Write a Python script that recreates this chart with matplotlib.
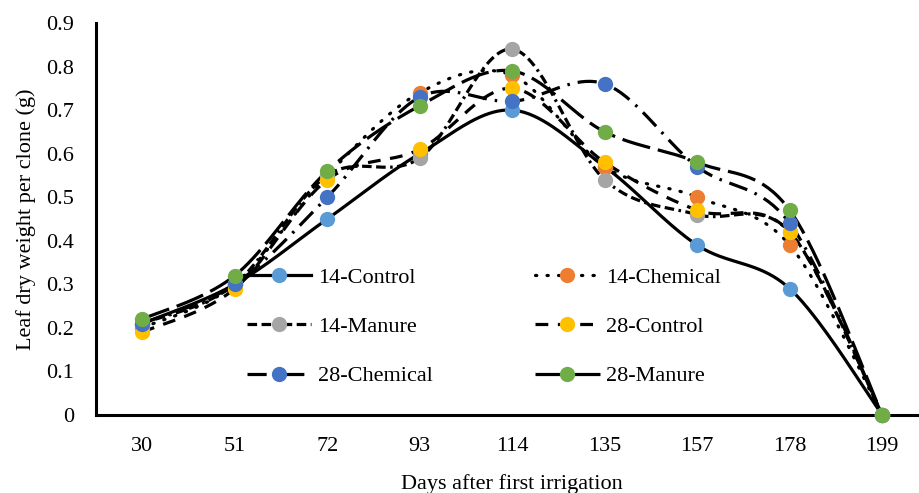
import matplotlib
matplotlib.use("Agg")
import matplotlib.pyplot as plt
import numpy as np
from matplotlib.lines import Line2D

days = ["30", "51", "72", "93", "114", "135", "157", "178", "199"]
control_14 = [0.21, 0.30, 0.45, 0.60, 0.70, 0.57, 0.39, 0.29, 0.0]
chemical_14 = [0.20, 0.30, 0.55, 0.74, 0.78, 0.57, 0.50, 0.39, 0.0]
manure_14 = [0.21, 0.30, 0.55, 0.59, 0.84, 0.54, 0.46, 0.42, 0.0]
control_28 = [0.19, 0.29, 0.54, 0.61, 0.75, 0.58, 0.47, 0.42, 0.0]
chemical_28 = [0.21, 0.30, 0.50, 0.73, 0.72, 0.76, 0.57, 0.44, 0.0]
manure_28 = [0.22, 0.32, 0.56, 0.71, 0.79, 0.65, 0.58, 0.47, 0.0]

labels = ["14-Control", "14-Chemical", "14-Manure", "28-Control", "28-Chemical", "28-Manure"]
colors = ["#5B9BD5", "#ED7D31", "#A5A5A5", "#FFC000", "#4472C4", "#70AD47"]
styles = [
    dict(linestyle="-"),
    dict(dashes=(0.4, 3.2), dash_capstyle="round"),
    dict(dashes=(3, 1.4, 3, 1.4, 0.8, 1.4)),
    dict(dashes=(4, 3)),
    dict(dashes=(6, 2.5, 0.8, 2.5)),
    dict(dashes=(9, 2.5)),
]


def smooth(xs, ys, n=40):
    """Excel-like smoothed line (Catmull-Rom as cubic Bezier)."""
    pts = np.column_stack([xs, ys]).astype(float)
    P = np.vstack([pts[0], pts, pts[-1]])
    t = np.linspace(0, 1, n)[:, None]
    out = []
    for i in range(1, len(P) - 2):
        p0, p1, p2, p3 = P[i - 1], P[i], P[i + 1], P[i + 2]
        c1 = p1 + (p2 - p0) / 6
        c2 = p2 - (p3 - p1) / 6
        seg = ((1 - t) ** 3) * p1 + 3 * ((1 - t) ** 2) * t * c1 + 3 * (1 - t) * t ** 2 * c2 + t ** 3 * p2
        out.append(seg if i == 1 else seg[1:])
    seg = np.vstack(out)
    return seg[:, 0], seg[:, 1]


plt.rcParams["font.family"] = ["Liberation Serif", "DejaVu Serif"]
fig = plt.figure(figsize=(9.2, 4.93), dpi=100)
ax = fig.add_axes([96 / 920, 78 / 493, 9 * 92.5 / 920, 392 / 493])

series = [control_14, chemical_14, manure_14, control_28, chemical_28, manure_28]
x = np.arange(len(days))
lw = 2.3
for vals, st in zip(series, styles):
    sx, sy = smooth(x, vals)
    ax.plot(sx, sy, color="black", lw=lw, zorder=2, **st)
for vals, c in zip(series, colors):
    ax.plot(x, vals, ls="none", marker="o", ms=11, mfc=c, mec=c, mew=0, zorder=3, clip_on=False)

ax.set_xlim(-0.5, 8.5)
ax.set_ylim(0, 0.9)
ax.set_xticks(x)
ax.set_xticklabels(days)
yt = np.round(np.arange(0, 0.91, 0.1), 1)
ax.set_yticks(yt)
ax.set_yticklabels(["0"] + [f"{v:.1f}" for v in yt[1:]])
ax.tick_params(axis="both", length=0, labelsize=16)
ax.tick_params(axis="y", pad=16)
ax.tick_params(axis="x", pad=16)
for name in ("top", "right"):
    ax.spines[name].set_visible(False)
for name in ("left", "bottom"):
    ax.spines[name].set_linewidth(2.2)

ax.set_xlabel("Days after first irrigation", fontsize=16)
ax.xaxis.set_label_coords(0.5, -0.15)
ax.set_ylabel("Leaf dry weight per clone (g)", fontsize=16)
ax.yaxis.set_label_coords(-0.072, 0.5)

handles = [
    Line2D([], [], color="black", lw=lw, marker="o", ms=11, mfc=c, mec=c, mew=0, **st)
    for c, st in zip(colors, styles)
]
# legend is filled row by row in the reference
order = [0, 2, 4, 1, 3, 5]
fig.legend(
    [handles[i] for i in order], [labels[i] for i in order],
    ncol=2, frameon=False, fontsize=16,
    loc="upper left", bbox_to_anchor=(227 / 920, 1 - 247 / 493),
    handlelength=2.9, handletextpad=0.3, columnspacing=4.6, labelspacing=1.3,
)

fig.savefig("out.png", dpi=100)
